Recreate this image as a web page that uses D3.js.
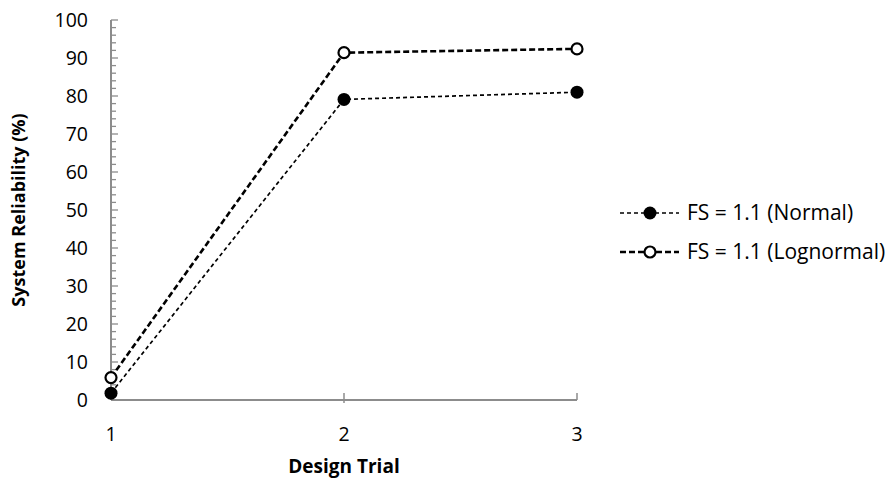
<!DOCTYPE html>
<html><head><meta charset="utf-8">
<script src="https://cdn.jsdelivr.net/npm/d3@7"></script>
<style>body{margin:0;background:#fff}svg{display:block}text{font-family:"Open Sans",sans-serif;fill:#000}</style>
</head><body><svg id="c" width="893" height="482"></svg>
<script>
const trials = [1, 2, 3];
const normalVals = [1.8, 79.1, 81.0];
const lognormalVals = [5.9, 91.4, 92.4];
const yTicks = [0,10,20,30,40,50,60,70,80,90,100];
const seriesNames = ["FS = 1.1 (Normal)", "FS = 1.1 (Lognormal)"];

const svg = d3.select("#c");
const x = d3.scaleLinear().domain([1,3]).range([111,577]);
const y = d3.scaleLinear().domain([0,100]).range([400,20]);
const axisColor = "#8c8c8c";

const minor = d3.range(0,101,2);
svg.append("g").selectAll("line").data(minor).join("line")
  .attr("x1", x(1)).attr("x2", d => x(1) + (d%10===0?7:5))
  .attr("y1", d => y(d)).attr("y2", d => y(d))
  .attr("stroke", axisColor).attr("stroke-width", 1.3);
svg.append("line").attr("x1",x(1)).attr("x2",x(1)).attr("y1",y(100)).attr("y2",y(0))
  .attr("stroke",axisColor).attr("stroke-width",2);
svg.append("line").attr("x1",x(1)).attr("x2",x(3)).attr("y1",y(0)).attr("y2",y(0))
  .attr("stroke",axisColor).attr("stroke-width",2);
svg.append("g").selectAll("line").data(trials.slice(1)).join("line")
  .attr("x1", d=>x(d)).attr("x2", d=>x(d))
  .attr("y1", d => d===2 ? y(0)+3 : y(0)).attr("y2", y(0)-7)
  .attr("stroke", axisColor).attr("stroke-width", 1.5);

svg.append("g").selectAll("text").data(yTicks).join("text")
  .attr("x", 88).attr("y", d => y(d)).attr("dy","0.35em")
  .attr("text-anchor","end").attr("font-size",19.5).text(d=>d);
svg.append("g").selectAll("text").data(trials).join("text")
  .attr("x", d=>x(d)).attr("y", 434).attr("dy","0.35em")
  .attr("text-anchor","middle").attr("font-size",19.5).text(d=>d);

svg.append("text").attr("x",x(2)).attr("y",466).attr("dy","0.35em")
  .attr("text-anchor","middle").attr("font-size",19).attr("font-weight","bold").text("Design Trial");
svg.append("text").attr("transform","translate(19,210) rotate(-90)").attr("dy","0.35em")
  .attr("text-anchor","middle").attr("font-size",18).attr("font-weight","bold").text("System Reliability (%)");

const line = d3.line().x((d,i)=>x(trials[i])).y(d=>y(d));
const styles = [
  {vals: normalVals, sw: 1.7, dash: "4,3", filled: true},
  {vals: lognormalVals, sw: 2.6, dash: "6,3", filled: false}
];
styles.forEach(s => {
  svg.append("path").attr("d", line(s.vals)).attr("fill","none")
    .attr("stroke","#000").attr("stroke-width",s.sw).attr("stroke-dasharray",s.dash);
});
styles.forEach(s => {
  svg.append("g").selectAll("circle").data(s.vals).join("circle")
    .attr("cx",(d,i)=>x(trials[i])).attr("cy",d=>y(d))
    .attr("r", s.filled ? 6.5 : 5.5)
    .attr("fill", s.filled ? "#000" : "#fff")
    .attr("stroke","#000").attr("stroke-width", s.filled ? 0 : 2.2);
});

const ly = [213, 252];
styles.forEach((s,i) => {
  svg.append("line").attr("x1",620).attr("x2",679).attr("y1",ly[i]).attr("y2",ly[i])
    .attr("stroke","#000").attr("stroke-width",s.sw).attr("stroke-dasharray",s.dash);
  svg.append("circle").attr("cx",650).attr("cy",ly[i]).attr("r", s.filled?6.5:5.5)
    .attr("fill", s.filled?"#000":"#fff").attr("stroke","#000").attr("stroke-width", s.filled?0:2.2);
  svg.append("text").attr("x",687).attr("y",ly[i]).attr("dy","0.35em")
    .attr("font-size",21).text(seriesNames[i]);
});
</script></body></html>
